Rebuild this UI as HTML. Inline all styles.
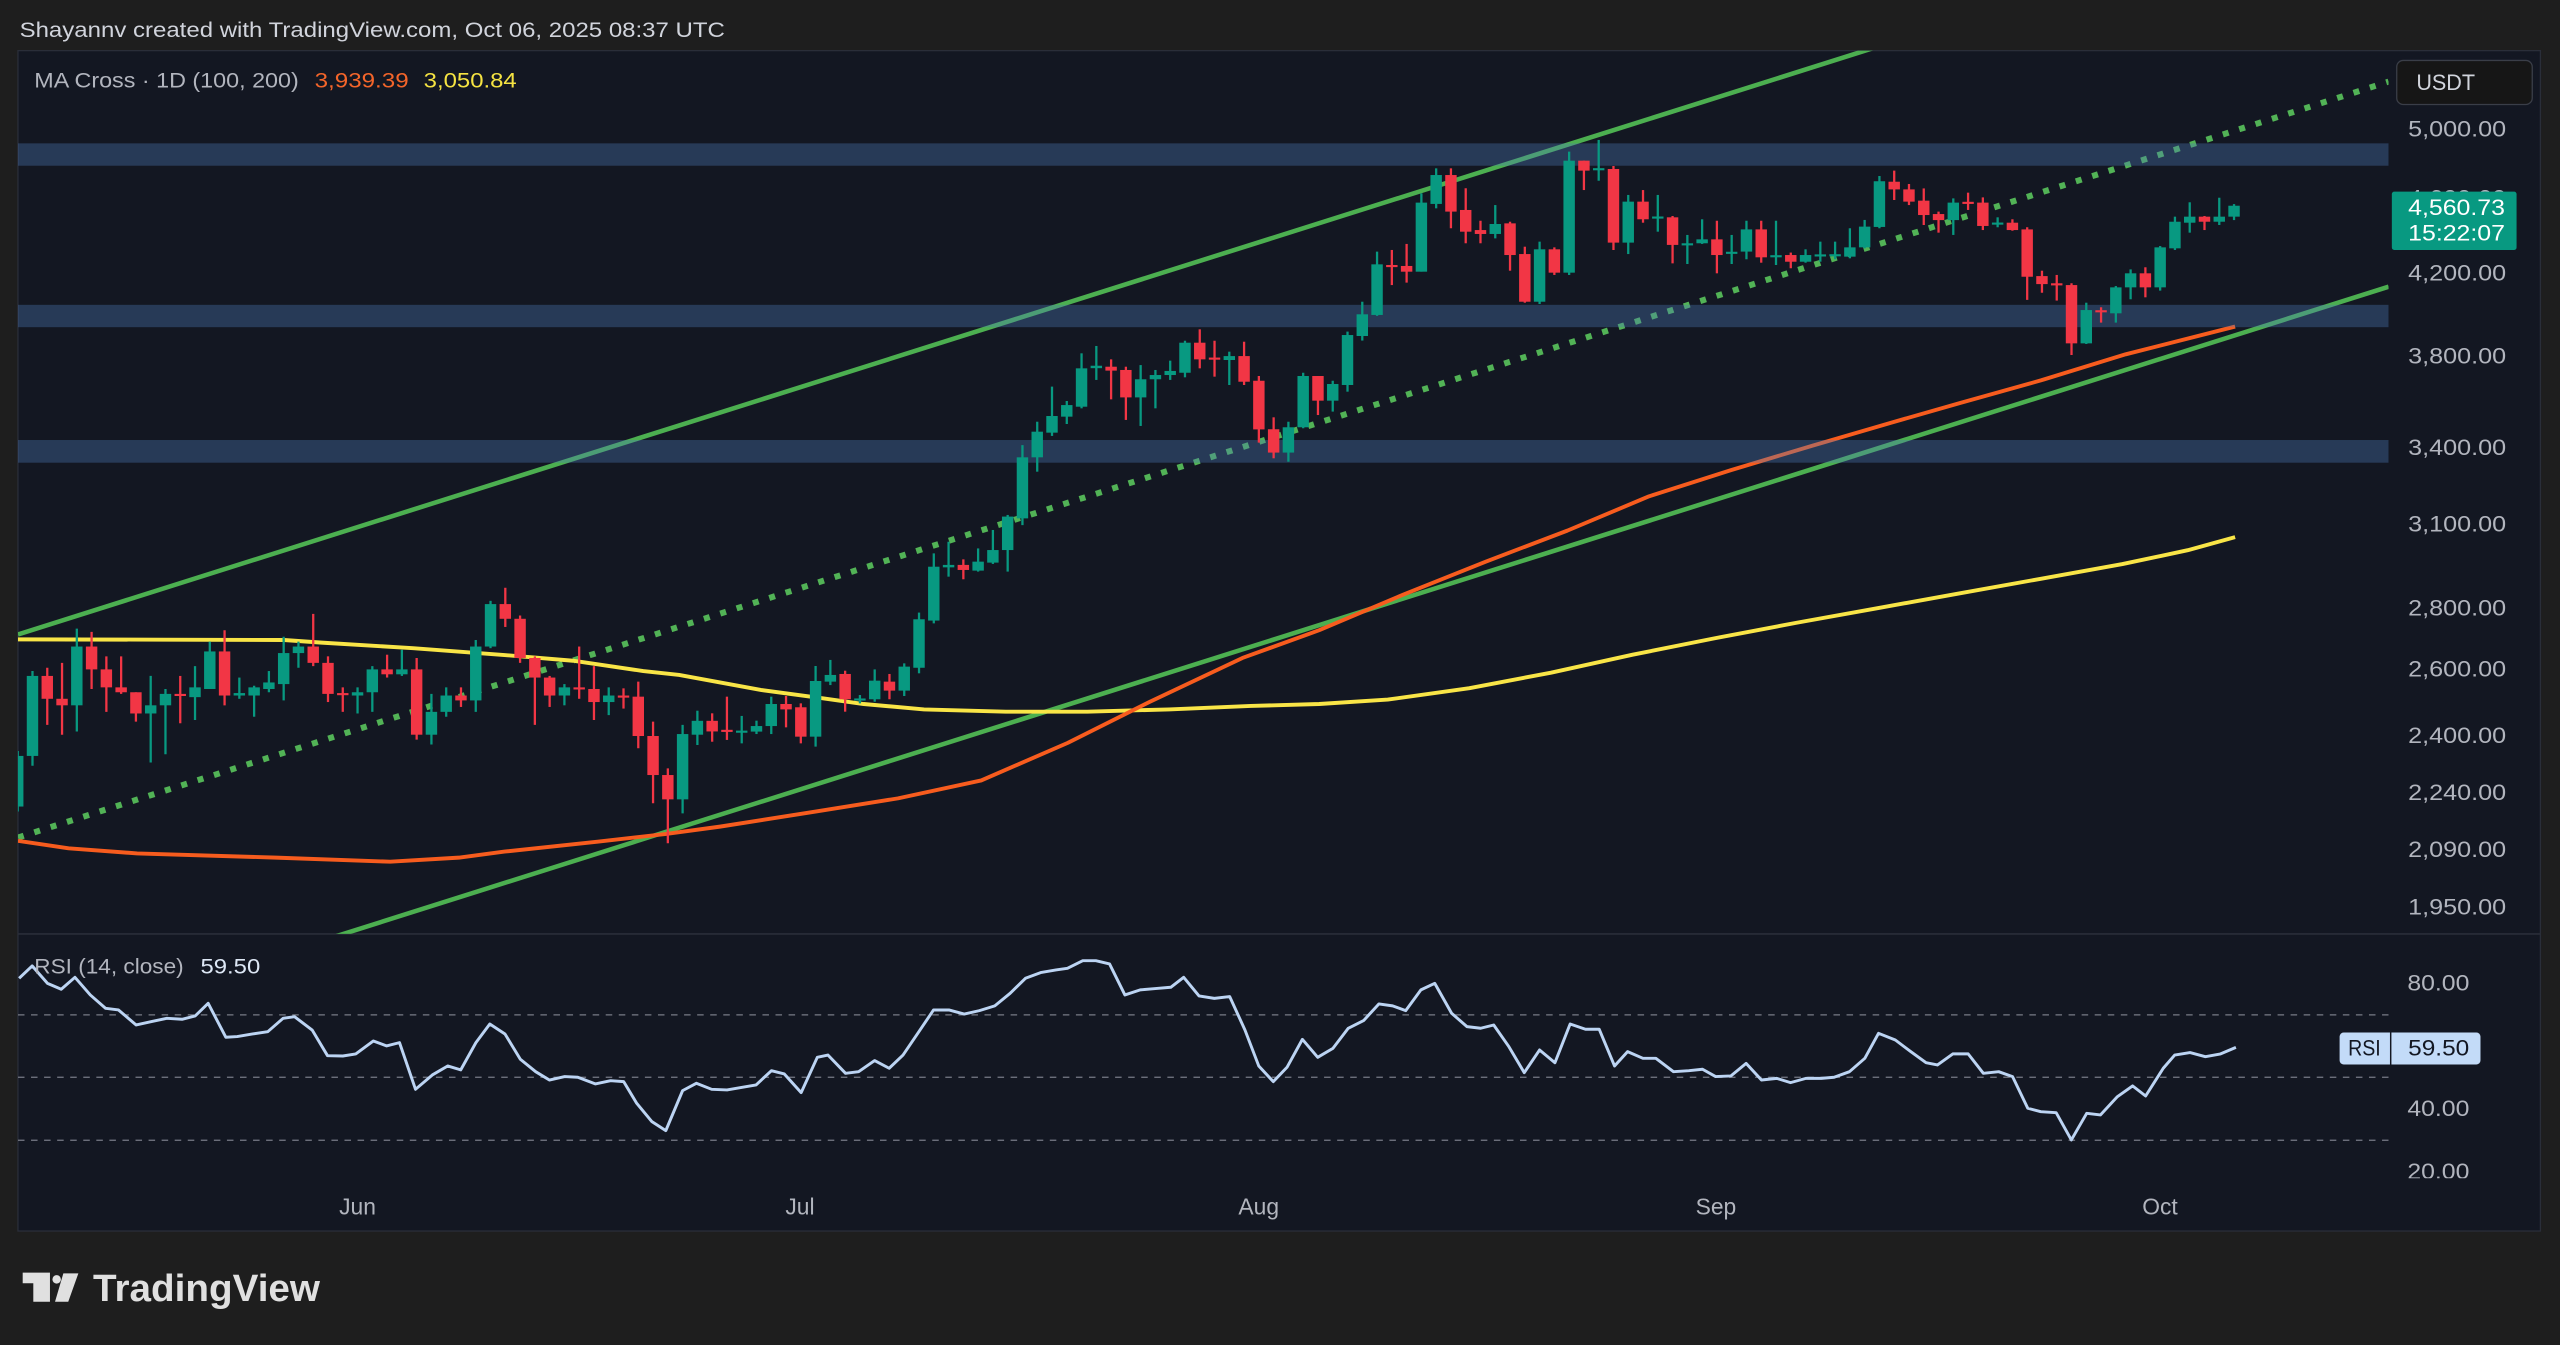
<!DOCTYPE html>
<html><head><meta charset="utf-8"><style>
html,body{margin:0;padding:0;background:#1e1e1e;width:2560px;height:1345px;overflow:hidden}
svg{display:block}
text{font-family:"Liberation Sans",sans-serif}
</style></head><body>
<svg width="2560" height="1345" viewBox="0 0 1568 823.8" xmlns="http://www.w3.org/2000/svg">
<defs>
<clipPath id="cm"><rect x="11" y="31" width="1452" height="541"/></clipPath>
<clipPath id="cr"><rect x="11" y="572.5" width="1452" height="150"/></clipPath>
<clipPath id="ca"><rect x="1464" y="572.5" width="92" height="149.2"/></clipPath>
</defs>
<rect width="1568" height="823.8" fill="#1e1e1e"/>
<text x="12" y="22.6" font-size="13" fill="#d1d4dc" textLength="432" lengthAdjust="spacingAndGlyphs">Shayannv created with TradingView.com, Oct 06, 2025 08:37 UTC</text>
<rect x="11" y="31" width="1545" height="723" fill="#131722" stroke="#2a2e39" stroke-width="0.8"/>
<line x1="11" y1="572" x2="1556" y2="572" stroke="#2a2e39" stroke-width="1"/>

<g clip-path="url(#cm)">
  <line x1="11" y1="388.6" x2="1200" y2="12.8" stroke="#4caf50" stroke-width="2.8"/>
  <line x1="200" y1="575.3" x2="1463" y2="175.6" stroke="#4caf50" stroke-width="2.8"/>
  <line x1="11" y1="513" x2="1463" y2="50" stroke="#52b356" stroke-width="3.7" stroke-dasharray="3.7 6.8"/>
  <polyline fill="none" stroke="#f9e547" stroke-width="2.4" stroke-linejoin="round" points="11,391.6 100,391.8 174,392 197,393.6 253,397 309,401.2 351,404.7 394,411 416,413.4 441,418 466,422.6 504,427.7 529,431.2 566,434.5 616,435.9 666,435.9 716,434.5 766,432.4 808,431.2 850,428.5 900,421.5 950,412 1000,401 1050,391 1100,381.5 1150,372.5 1200,363.5 1250,354.5 1300,345.5 1340,337 1369,329"/>
  <polyline fill="none" stroke="#f75c1e" stroke-width="2.4" stroke-linejoin="round" points="11,515 42,519.6 84,522.7 169,525.3 239,527.8 281,525.3 309,521.6 366,515.5 408,510.8 441,506.3 500,497 550,489 601,478 654,455 704,430 761,403 808,386 860,364 910,344 960,325 1010,304 1060,288 1110,273 1158,259 1200,247 1250,233 1302,217 1369,200"/>
  <g fill="#4c7bb9" fill-opacity="0.35">
    <rect x="11" y="87.8" width="1452" height="13.7"/>
    <rect x="11" y="186.7" width="1452" height="13.7"/>
    <rect x="11" y="269.5" width="1452" height="13.9"/>
  </g>
  <g id="candles"></g>
</g>

<text x="21" y="53.6" font-size="13" fill="#b2b5be" textLength="162" lengthAdjust="spacingAndGlyphs">MA Cross · 1D (100, 200)</text>
<text x="192.7" y="53.6" font-size="13" fill="#f4652a" textLength="57.6" lengthAdjust="spacingAndGlyphs">3,939.39</text>
<text x="259.5" y="53.6" font-size="13" fill="#f5e342" textLength="57" lengthAdjust="spacingAndGlyphs">3,050.84</text>

<rect x="1468" y="37" width="83" height="27" rx="4" fill="#161616" stroke="#3a3e48" stroke-width="0.8"/>
<text x="1480" y="55" font-size="13.5" fill="#d1d4dc" textLength="36" lengthAdjust="spacingAndGlyphs">USDT</text>

<g font-size="13.5" fill="#b2b5be">
  <text x="1475" y="83.7" textLength="60" lengthAdjust="spacingAndGlyphs">5,000.00</text>
  <text x="1475" y="125.9" textLength="60" lengthAdjust="spacingAndGlyphs">4,600.00</text>
  <text x="1475" y="171.9" textLength="60" lengthAdjust="spacingAndGlyphs">4,200.00</text>
  <text x="1475" y="222.5" textLength="60" lengthAdjust="spacingAndGlyphs">3,800.00</text>
  <text x="1475" y="278.8" textLength="60" lengthAdjust="spacingAndGlyphs">3,400.00</text>
  <text x="1475" y="325.5" textLength="60" lengthAdjust="spacingAndGlyphs">3,100.00</text>
  <text x="1475" y="377" textLength="60" lengthAdjust="spacingAndGlyphs">2,800.00</text>
  <text x="1475" y="414.5" textLength="60" lengthAdjust="spacingAndGlyphs">2,600.00</text>
  <text x="1475" y="455" textLength="60" lengthAdjust="spacingAndGlyphs">2,400.00</text>
  <text x="1475" y="489.9" textLength="60" lengthAdjust="spacingAndGlyphs">2,240.00</text>
  <text x="1475" y="524.9" textLength="60" lengthAdjust="spacingAndGlyphs">2,090.00</text>
  <text x="1475" y="560" textLength="60" lengthAdjust="spacingAndGlyphs">1,950.00</text>
</g>
<rect x="1465" y="117.4" width="76.4" height="35.7" rx="1.5" fill="#089981"/>
<text x="1475" y="131.7" font-size="13.5" fill="#ffffff" textLength="59.3" lengthAdjust="spacingAndGlyphs">4,560.73</text>
<text x="1475" y="147.2" font-size="13.5" fill="#ffffff" textLength="59.3" lengthAdjust="spacingAndGlyphs">15:22:07</text>

<g clip-path="url(#cr)">
  <g stroke="#787b86" stroke-width="0.8" stroke-dasharray="4 4">
    <line x1="11" y1="621.6" x2="1463" y2="621.6"/>
    <line x1="11" y1="659.8" x2="1463" y2="659.8"/>
    <line x1="11" y1="698.4" x2="1463" y2="698.4"/>
  </g>
  <polyline fill="none" stroke="#bcd4f3" stroke-width="1.8" stroke-linejoin="round" points="11.7,599.2 19.7,591.6 29.1,602.3 37.5,605.9 45.9,598.6 55.3,609.4 64.7,617.6 72.6,618.6 83.4,627.8 92.8,625.7 102.2,623.7 111.5,624.3 119.5,622.3 127.5,614.5 138.3,635.3 145.3,634.9 154.7,633.3 164,631.9 173.4,623.7 180.4,622.7 191.2,630.9 200.6,646.6 210,646.8 217.9,645.5 228.7,637.6 236.7,640.6 244.7,638.6 254.5,667.2 264.8,658.4 274.2,652.9 282.2,655.3 291.5,638.6 300,627.2 309.3,633.3 318.7,648.8 328.1,656.4 336.5,661.5 345.9,659.4 353.9,659.8 364.6,663.9 374,661.9 382,662.5 390,675.8 399.3,687 407.8,692.5 418.1,668 426.5,663.5 435.9,667.2 445.3,667.6 454.6,666 463.1,664.5 472.5,655.8 480.4,657.8 490.7,669.2 500.6,647.6 507.1,646.2 517.9,657.4 525.9,656.4 535.7,649.6 544.6,654.3 553.1,646.2 562.4,632.5 571.8,618.6 581.2,618.6 590.6,621.1 599.9,619 609.3,616.1 618.7,608.4 628.1,599.2 637.4,595.7 646.8,594.1 653.8,593.1 663.2,588.4 671.2,588.4 679.6,590.4 689,609.4 698.4,606.3 707.7,605.5 717.1,604.7 725,598.6 734.4,610 743.8,611.5 753.2,610.4 762.5,630.8 771,652.9 779.9,662.5 788.3,653.7 797.7,636.6 807.1,647.6 816.4,642.1 825.8,629.8 835.2,625.1 844.6,614.9 853,616.1 861,619 870.3,606.3 878.8,602.3 889.1,620.6 898.5,628.8 906.9,629.8 914.9,627.8 924.2,641.1 933.6,657 943,643.1 952.4,650.9 961.7,627.2 971.1,630.4 979.5,630.4 988.9,652.9 996.9,644.1 1006.3,648.2 1014.2,648.2 1025,656.4 1034.4,655.8 1042.8,654.9 1050.8,659.4 1060.2,659 1069.5,651.3 1078.9,661.5 1088.3,660.5 1096.7,663.1 1106.1,660.5 1115.5,660.5 1123.4,659.8 1132.8,656.4 1142.2,648.2 1150.6,632.9 1160.9,637 1170.3,644.1 1179.7,650.9 1186.7,652.3 1196.1,645.5 1205.5,645.5 1214.8,657.4 1224.2,656.4 1232.7,659.4 1242,678.8 1250,680.9 1259.4,681.5 1268.7,698.2 1278.1,681.9 1286.5,682.9 1296.9,671.7 1306.2,665.1 1314.2,671.3 1325,654.3 1332,646.2 1341.4,644.7 1350.8,647.2 1360.1,645.5 1369.5,641.5"/>
</g>
<text x="21" y="596.2" font-size="13" fill="#b2b5be" textLength="91.5" lengthAdjust="spacingAndGlyphs">RSI (14, close)</text>
<text x="122.8" y="596.2" font-size="13" fill="#dde7f5" textLength="36.6" lengthAdjust="spacingAndGlyphs">59.50</text>

<g clip-path="url(#ca)" font-size="13.5" fill="#b2b5be">
  <text x="1474.5" y="606.7" textLength="38" lengthAdjust="spacingAndGlyphs">80.00</text>
  <text x="1474.5" y="683.7" textLength="38" lengthAdjust="spacingAndGlyphs">40.00</text>
  <text x="1474.5" y="722.2" textLength="38" lengthAdjust="spacingAndGlyphs">20.00</text>
</g>
<rect x="1433" y="632.4" width="86.3" height="19.6" rx="2.5" fill="#c3dbf8"/>
<line x1="1464.3" y1="632.4" x2="1464.3" y2="652" stroke="#131722" stroke-width="0.9"/>
<text x="1438.2" y="646.6" font-size="13.5" fill="#131722" textLength="20" lengthAdjust="spacingAndGlyphs">RSI</text>
<text x="1475" y="646.6" font-size="13.5" fill="#131722" textLength="37.4" lengthAdjust="spacingAndGlyphs">59.50</text>

<g font-size="14" fill="#b2b5be" text-anchor="middle">
  <text x="219" y="744">Jun</text>
  <text x="490" y="744">Jul</text>
  <text x="771" y="744">Aug</text>
  <text x="1051" y="744">Sep</text>
  <text x="1323" y="744">Oct</text>
</g>

<g fill="#e0e0e0">
  <path d="M13.9,779.5 H30.6 V797.3 H20.4 V786 H13.9 Z"/>
  <circle cx="34.7" cy="783.6" r="2.6"/>
  <path d="M38.8,779.9 H48 L41.8,797.3 H33.7 Z"/>
</g>
<text x="57" y="797" font-size="23.5" font-weight="bold" fill="#e0e0e0" textLength="139" lengthAdjust="spacingAndGlyphs">TradingView</text>
</svg>
<script>
var D=[
[494,463,460,497],[463,414,411,469],[414,428,409,444],[428,432,406,450],[432,396,385,448],[396,410,387,422],[410,421,402,436],[421,424,402,425],[424,437,424,442],[437,432,414,467],
[432,425,422,462],[425,426,414,443],[427,421,408,441],[422,399,393,422],[399,426,386,432],[426,424.5,415,428],[426,421,420,439],[422,418,411,424],[419,400,390,429],[400,396,393,409],
[396,406,376,408],[406,425,402,430],[424.5,425.5,421,436],[426,424,421,437],[424,410,408,436],[410,413,401,415],[413,410,398,414],[410,450,403,453],[450,436,425,456],[436,426,421,439],
[426,429,421,433],[429,396,392,436],[396,370,368,397],[370,379,360,384],[379,403,377,406],[403,415,402,444],[415,426,414,433],[426,421,419,432],[421,421.8,396,428],[422,430,408,441],
[430,426,421,438],[426,427,421.6,434],[426.7,450.8,417.5,458.3],[450.8,474.7,442,492],[474.7,489.6,470.6,516.5],[489.6,449.6,444,498.2],[450,441.5,435.3,456.3],[441.5,448,436.9,454.3],[447,448,426.7,453.2],[448.5,447.5,438.5,455.3],
[448.1,444.7,441.4,449.6],[444.7,431.2,426.7,449.6],[431.2,434.5,426.3,445.5],[433.2,451.2,430.8,455.3],[451.2,417.1,407.9,457.3],[417.5,413.4,404.2,419.6],[412.8,428.3,410.8,435.9],[428.5,427.8,425.7,430.8],[428.3,416.9,410,429.8],[417.5,423,412.8,428.3],
[423,408.3,406.3,426.3],[409,379.3,375.2,412.4],[380.1,347.1,338.9,381.8],[347.5,346,331.8,353.2],[346,349.1,342.6,354.8],[349.5,344,335.9,350.1],[344.6,336.9,324.6,345.4],[336.9,316.4,315.4,350.1],[317.5,280.1,272.6,321.6],[280.1,264.4,258.3,288.9],
[265,254.8,236.8,267],[255.2,248.1,245.6,259.7],[249.1,225.6,216.4,250.1],[225.5,224,211.9,232.7],[224.6,227,220.1,244.6],[226.6,243.4,224.6,257.2],[243.4,232.3,223.6,260.9],[232.3,229.7,226.6,250.1],[229.7,227.2,220.9,232.7],[228.3,209.9,208.7,231.1],
[209.9,220.1,201.7,225.6],[219,220,208.7,230.7],[220.5,218.1,215.4,235.8],[218.1,233.8,209.3,235.8],[233.2,263,230.3,271.1],[262.9,277.2,255.6,280.7],[277.2,261.7,258.3,282.8],[261.7,230.3,228.3,262.3],[230.3,245.4,230.3,254.2],[245.4,235.2,233.2,252.1],
[235.8,205.2,203.1,239.9],[205.8,192.5,184.8,208.6],[192.9,161.9,154.1,193.5],[162.3,163.3,153.1,174.6],[162.9,166.4,149.4,173.1],[166.4,124.1,118.4,166.4],[124.9,107.2,103.1,127.6],[107.2,129.6,103.1,139.8],[128.6,141.9,115.3,149],[140.9,143.3,135.2,149],
[143.3,137.2,125.6,146],[136.8,156.2,135.8,165.8],[155.6,184.8,151.1,185.4],[184.8,152.7,148,186.2],[152.7,167,151.5,168.4],[167,98.4,92.9,168.4],[98.4,104.5,98.4,116.4],[104,103,85.7,110.7],[103.5,148.6,101.7,153.1],[148.6,123.5,119.4,155.6],
[123.5,134.3,116.4,136.4],[133.6,132.6,119.4,141.9],[133.1,150,132.3,161.3],[150,149,143.9,161.7],[149,146.6,134.3,149.4],[146.6,156.2,135.2,167.4],[155.3,154.2,143.9,161.7],[154.1,140.5,135.2,158.8],[140.5,157.6,135.2,160.9],[157.3,156.3,135.2,162.3],
[156.2,160.3,154.7,164.3],[160.3,156.2,152.7,160.9],[156.8,155.8,148,160.3],[156.7,155.7,148,158.8],[157.2,151.5,139.8,158.2],[151.5,138.8,134.7,152.1],[139,111,107.8,139.8],[111.3,116,104.5,122.5],[116,123.5,112.7,125.6],[122.9,131.7,115.4,137.8],
[131.1,134.8,129.6,142.5],[134.8,124.1,121.5,143.9],[123.6,124.6,118,128.6],[124.1,138.4,120.9,140.9],[137.3,136.3,133.1,139.2],[136.4,140.9,134.3,141.3],[140.5,169.5,139.2,183.7],[169.1,174,165.8,179.3],[173.5,174.5,168.4,184.1],[174.6,210.3,173.5,217.4],
[210.3,189.9,185.4,210.7],[190,191,188.2,197.6],[191.9,176,175.2,197.6],[176,167.4,165,183.3],[167.4,176,163.7,182.1],[176,151.5,150.7,178],[152.1,135.8,132.7,153.1],[136.4,132.7,123.9,142.5],[132.7,135.8,132.3,140.9],[135.8,132.7,121.1,137.8],
[132.7,126,125,134.8]
];
(function(){
  var h='';
  for(var i=0;i<D.length;i++){
    var d=i-23, x=219+d*9.05, c=D[i], o=c[0], cl=c[1], hi=c[2], lo=c[3];
    var up=cl<o, col=up?'#089981':'#f23645';
    var top=Math.min(o,cl), bot=Math.max(o,cl), bh=Math.max(bot-top,1.3);
    h+='<line x1="'+x.toFixed(2)+'" y1="'+hi+'" x2="'+x.toFixed(2)+'" y2="'+lo+'" stroke="'+col+'" stroke-width="1.4"/>';
    h+='<rect x="'+(x-3.5).toFixed(2)+'" y="'+top+'" width="7" height="'+bh.toFixed(2)+'" fill="'+col+'"/>';
  }
  document.getElementById('candles').innerHTML=h;
})();
</script>
</body></html>
